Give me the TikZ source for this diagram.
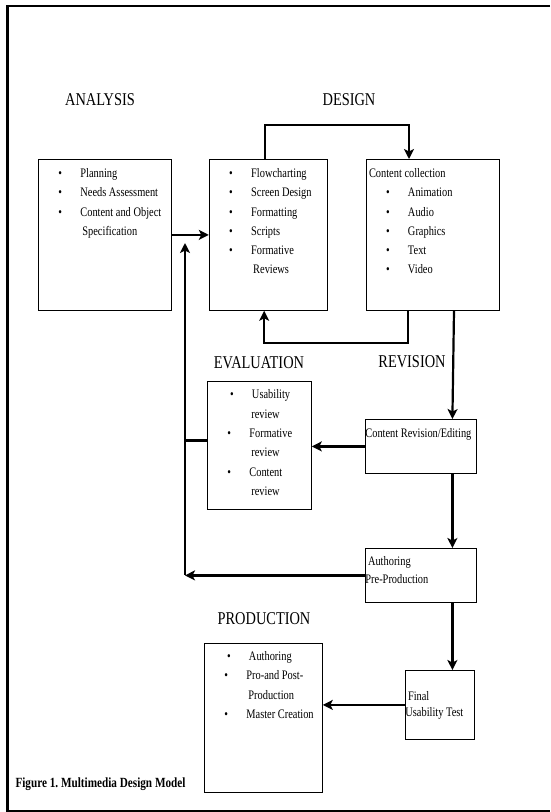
\documentclass[tikz,border=0pt]{standalone}
\usepackage{fontspec}
\setmainfont{Liberation Serif}[FakeStretch=0.8]
\usetikzlibrary{arrows.meta, positioning, calc}

\newcommand{\bitem}[1]{\hspace*{20pt}\makebox[22pt][l]{\textbullet}#1\par}
\newcommand{\bcont}[1]{\hspace*{44pt}#1\par}
\newcommand{\topgap}{\rule{0pt}{18pt}}

\begin{document}
\begin{tikzpicture}[
    x=1pt, y=-1pt,
    node distance=37pt,
    stage/.style={rectangle, draw, line width=0.8pt, inner sep=0pt, font=\fontsize{13}{19.3}\selectfont},
    heading/.style={font=\fontsize{18}{20}\selectfont},
    conn/.style={-{Stealth[length=10pt, width=10pt, inset=2.5pt]}, line width=2.2pt},
    link/.style={line width=2.2pt}
]
\useasboundingbox (0,0) rectangle (550,812);
\draw[line width=2.5pt] (550,6) -- (7.5,6) -- (7.5,811) -- (550,811);

% headings
\node[heading] (hanalysis) at (100,100) {ANALYSIS};
\node[heading] (hdesign) at (349,100) {DESIGN};
\node[heading] (hevaluation) at (259,363) {EVALUATION};
\node[heading] (hrevision) at (412,362) {REVISION};
\node[heading] (hproduction) at (264,619) {PRODUCTION};

% stages
\node[stage, anchor=north west] (analysis) at (38,159) {\parbox[t][151pt][t]{133pt}{\raggedright\topgap
    \bitem{Planning}\bitem{Needs Assessment}\bitem{Content and Object}\bcont{Specification}}};
\node[stage, right=of analysis] (flow) {\parbox[t][151pt][t]{118pt}{\raggedright\topgap
    \bitem{Flowcharting}\bitem{Screen Design}\bitem{Formatting}\bitem{Scripts}\bitem{Formative}\bcont{Reviews}}};
\node[stage, right=38pt of flow] (collect) {\parbox[t][151pt][t]{133pt}{\raggedright\topgap
    \hspace*{3pt}Content collection\par
    \bitem{Animation}\bitem{Audio}\bitem{Graphics}\bitem{Text}\bitem{Video}}};
\node[stage, anchor=north west] (eval) at (207,381) {\parbox[t][128pt][t]{104pt}{\raggedright\rule{0pt}{17.5pt}
    \bitem{Usability}\bcont{review}\bitem{Formative}\bcont{review}\bitem{Content}\bcont{review}}};
\node[stage, anchor=north west] (revise) at (365,419) {\parbox[t][54pt][t]{111pt}{\raggedright\topgap
    Content Revision/Editing}};
\node[stage, anchor=north west] (author) at (365,548) {\parbox[t][54pt][t]{111pt}{\raggedright\baselineskip=18pt\rule{0pt}{17pt}
    Authoring\par Pre-Production}};
\node[stage, anchor=north west] (final) at (405,670) {\parbox[t][69pt][t]{69pt}{\raggedright\baselineskip=16pt\rule{0pt}{30pt}
    Final\par Usability Test}};
\node[stage, anchor=north west] (prod) at (204,643) {\parbox[t][149pt][t]{118pt}{\raggedright\rule{0pt}{17pt}
    \bitem{Authoring}\bitem{Pro-and Post-}\bcont{Production}\bitem{Master Creation}}};

\node[anchor=base west, font=\bfseries\fontsize{14}{16}\selectfont] (caption) at (12,787) {Figure 1.\ Multimedia Design Model};

% loop back to design
\coordinate (loopbot) at (185,575);
\coordinate (looptop) at (185,243);

\draw[conn] (analysis.east) -- (flow.west);
\draw[conn] ([xshift=-3pt]flow.north) -- ++(0,-34) -| ([xshift=-23.5pt]collect.north);
\draw[conn] ([xshift=-24.5pt]collect.south) -- ++(0,32) -| ([xshift=-4pt]flow.south);
\draw[conn] ([xshift=21.5pt]collect.south) -- ([xshift=31.5pt]revise.north);
\draw[conn] (revise.west) -- (revise.west -| eval.east);
\draw[conn] ([xshift=31.5pt]revise.south) -- ([xshift=31.5pt]author.north);
\draw[conn] (author.west) -- (author.west -| loopbot);
\draw[conn] (loopbot) -- (looptop);
\draw[link] ([yshift=5pt]eval.west) -- ([yshift=5pt]eval.west -| loopbot);
\draw[conn] ([xshift=31.5pt]author.south) -- ([xshift=12.5pt]final.north);
\draw[conn] (final.west) -- (final.west -| prod.east);

\end{tikzpicture}
\end{document}
